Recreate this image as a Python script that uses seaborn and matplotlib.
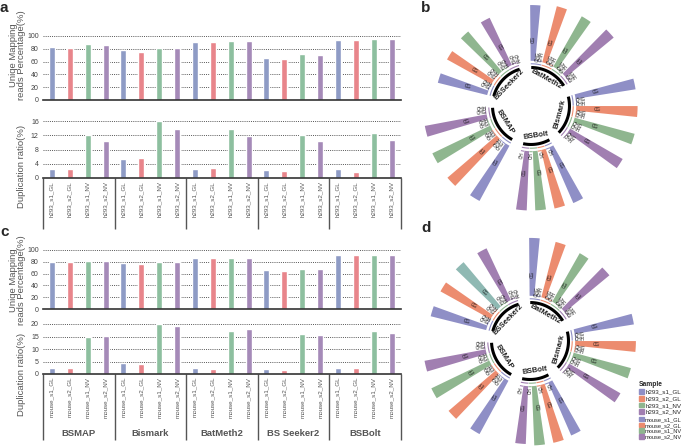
import numpy as np
import pandas as pd
import matplotlib
matplotlib.use("Agg")
from matplotlib import pyplot as plt
from matplotlib.patches import Patch
import seaborn as sns

# ---- data: bar panels (a, c) ----
tools = ["BSMAP", "Bismark", "BatMeth2", "BS Seeker2", "BSBolt"]
h293_samples = ["h293_s1_GL", "h293_s2_GL", "h293_s1_NV", "h293_s2_NV"]
mouse_samples = ["mouse_s1_GL", "mouse_s2_GL", "mouse_s1_NV", "mouse_s2_NV"]

h293_unique = [83.2, 81.6, 86.8, 85.8, 77.4, 75.3, 81.6, 80.5, 91.0, 90.5,
               91.6, 91.6, 66.3, 64.2, 72.0, 71.0, 93.7, 93.7, 94.7, 94.7]
h293_dup = [2.4, 2.4, 12.2, 10.3, 5.3, 5.5, 16.0, 13.9, 2.6, 2.7,
            13.7, 11.9, 2.2, 2.1, 12.2, 10.5, 2.5, 1.7, 12.6, 10.8]
mouse_unique = [80.0, 80.0, 80.6, 80.6, 77.7, 76.6, 78.9, 78.9, 86.8, 86.8,
                86.8, 86.8, 65.4, 64.2, 68.2, 68.2, 91.3, 91.3, 91.3, 91.3]
mouse_dup = [2.6, 2.3, 14.7, 15.2, 4.3, 4.1, 20.0, 19.2, 2.6, 2.2,
             17.2, 18.1, 2.0, 1.8, 16.0, 15.5, 2.6, 2.3, 17.1, 16.3]

# ---- data: circular panels (b, d) ----
circ_tools = ["BatMeth2", "Bismark", "BSBolt", "BSMAP", "BSSeeker2"]
circ_contexts = {"BatMeth2": ["CG", "CHG", "CHH"], "Bismark": ["CG", "CHG", "CHH"],
                 "BSBolt": ["CG", "CH"], "BSMAP": ["CG", "CHG", "CHH"],
                 "BSSeeker2": ["CG", "CHG", "CHH"]}
h293_CG = [79, 82, 82, 88, 86, 87, 88, 86, 86, 85, 84, 84, 89, 92, 91, 89, 72, 72, 74, 74]
h293_CHG = [1.5] * 20     # BSBolt rows hold CH
h293_CHH = [1.0] * 20
mouse_CG = [82, 81, 79, 82, 85, 86, 84, 84, 82, 84, 84, 82, 86, 88, 91, 88, 81, 81, 82, 81]
mouse_CHG = [1.5] * 20
mouse_CHH = [1.0] * 20

bar_colors = ["#8e9bc5", "#e8858b", "#8dbf9f", "#a58ab8"]
circ_colors = ["#8f8fc6", "#ec8c6f", "#8fb68f", "#a17fb1"]

sns.set_style("white")
plt.rcParams["font.family"] = ["Liberation Sans", "DejaVu Sans"]

fig = plt.figure(figsize=(6.85, 4.46), dpi=100)
W, H = 685, 446


def rect(x0, y_top, x1, y_bot):
    return [x0 / W, 1 - y_bot / H, (x1 - x0) / W, (y_bot - y_top) / H]


def draw_bars(r, values, samples, ytop, yticks, ylabel, lab_y, xlabels=False, groups=False,
              sep_len=0.9):
    ax = fig.add_axes(r)
    df = pd.DataFrame({"pos": [f"{t}|{s}" for t in tools for s in samples],
                       "sample": samples * len(tools), "value": values})
    sns.barplot(data=df, x="pos", y="value", hue="sample", palette=dict(zip(samples, bar_colors)),
                dodge=False, width=0.34, errorbar=None, legend=False, saturation=1, ax=ax)
    ax.set_xlim(-0.5, len(df) - 0.5)
    ax.set_ylim(0, ytop * 1.02)
    ax.set_yticks(yticks)
    ax.yaxis.grid(True, linestyle=(0, (1, 1.2)), color="#555555", lw=0.7)
    ax.set_axisbelow(True)
    for s in ["top", "right", "left"]:
        ax.spines[s].set_visible(False)
    ax.spines["bottom"].set_color("#333333")
    ax.spines["bottom"].set_linewidth(1.2)
    ax.tick_params(axis="y", labelsize=5, colors="#444444", length=2, width=0.6, pad=1)
    ax.tick_params(axis="x", length=0)
    ax.set_xlabel("")
    ax.set_ylabel(ylabel, fontsize=6.8, color="#555555", linespacing=0.9)
    ax.yaxis.set_label_coords(-0.047, lab_y)
    if xlabels:
        ax.set_xticks(range(len(df)))
        ax.set_xticklabels(samples * len(tools), rotation=90, fontsize=4.5, color="#555555")
        ax.tick_params(axis="x", pad=2)
        ax.vlines(np.arange(-0.5, len(df), 4), -sep_len, 0, transform=ax.get_xaxis_transform(),
                  colors="#555555", lw=1, clip_on=False)
    else:
        ax.set_xticks([])
    if groups:
        for i, t in enumerate(tools):
            ax.text(i * 4 + 1.5, -1.16, t, transform=ax.get_xaxis_transform(), ha="center",
                    va="center", fontsize=6.8, fontweight="bold", color="#555555")
    return ax


draw_bars(rect(43, 34.7, 400.5, 100), h293_unique, h293_samples, 100, [0, 20, 40, 60, 80, 100],
          "Uniqe Mapping\nreads Percentage(%)", 0.69)
draw_bars(rect(43, 119.9, 400.5, 178), h293_dup, h293_samples, 16, [0, 4, 8, 12, 16],
          "Duplication ratio(%)", 0.2, xlabels=True, sep_len=0.87)
draw_bars(rect(43, 248.8, 400.5, 309), mouse_unique, mouse_samples, 100, [0, 20, 40, 60, 80, 100],
          "Uniqe Mapping\nreads Percentage(%)", 0.48)
draw_bars(rect(43, 323, 400.5, 374), mouse_dup, mouse_samples, 20, [0, 5, 10, 15, 20],
          "Duplication ratio(%)", 0.0, xlabels=True, groups=True, sep_len=1.3)

# ---- circular panels ----
CG_W, CH_W, THETA0 = 6.2, 4.4, -8.4
GAP = (360 - sum(4 * (CG_W + CH_W * (len(circ_contexts[t]) - 1)) for t in circ_tools)) / len(circ_tools)
RMIN, RMAX, PX = -64, 95, 0.706


def radial_rot(th):
    rot = 90 - th
    while rot <= -90:
        rot += 180
    while rot > 90:
        rot -= 180
    return rot


def tangential_rot(th):
    th = th % 360
    return -th if (th < 90 or th > 270) else 180 - th


def draw_circle(cx, cy, cg, chg, chh, recolor=None):
    R = (RMAX - RMIN) * PX
    ax = fig.add_axes(rect(cx - R, cy - R, cx + R, cy + R), projection="polar")
    ax.set_theta_zero_location("N")
    ax.set_theta_direction(-1)
    ax.set_ylim(RMIN, RMAX)
    ax.set_axis_off()
    recolor = recolor or {}
    th = THETA0
    for ti, tool in enumerate(circ_tools):
        th += GAP / 2
        sec_start = th
        for si in range(4):
            i = ti * 4 + si
            vals = [cg[i], chg[i], chh[i]][:len(circ_contexts[tool])]
            g_start = th
            for ctx, v in zip(circ_contexts[tool], vals):
                w = CG_W if ctx == "CG" else CH_W
                mid = th + w / 2
                col = recolor.get(i, circ_colors[si]) if ctx == "CG" else circ_colors[si]
                ax.bar(np.deg2rad(mid), v, width=np.deg2rad(w * 0.95), bottom=0,
                       color=col, lw=0)
                rr = 30 if ctx == "CG" else v + 5.5
                ax.text(np.deg2rad(mid), rr, ctx, fontsize=3.3, rotation=radial_rot(mid),
                        rotation_mode="anchor", ha="center", va="center", color="#111111")
                th += w
            arc = np.deg2rad(np.linspace(g_start + 0.3, th - 0.3, 20))
            ax.plot(arc, [-4.2] * len(arc), color=circ_colors[si], lw=0.8, solid_capstyle="butt")
        arc = np.deg2rad(np.linspace(sec_start + 1, th - 1, 60))
        ax.plot(arc, [-9.5] * len(arc), color="black", lw=2.2, solid_capstyle="butt")
        mid = (sec_start + th) / 2
        ax.text(np.deg2rad(mid), -21, tool, fontsize=5.5, fontweight="bold",
                rotation=tangential_rot(mid), rotation_mode="anchor", ha="center", va="center",
                color="#222222")
        th += GAP / 2


draw_circle(531, 106, h293_CG, h293_CHG, h293_CHH)
# in d the BSSeeker2 / mouse_s1_NV bar is drawn in a teal tone
draw_circle(530, 341, mouse_CG, mouse_CHG, mouse_CHH, recolor={18: "#8fb9b3"})

# legend
h1 = [Patch(color=c, label=s) for c, s in zip(circ_colors, h293_samples)]
h2 = [Patch(color=c, label=s) for c, s in zip(circ_colors, mouse_samples)]
kw = dict(loc="upper left", frameon=False, fontsize=4.5, handlelength=0.8, handleheight=0.8,
          handletextpad=0.3, labelspacing=0.18, borderpad=0, borderaxespad=0)
fig.legend(handles=h1, title="Sample", title_fontproperties={"weight": "bold", "size": 4.8},
           alignment="left", bbox_to_anchor=(639 / W, 1 - 381 / H), **kw)
kw.update(labelspacing=0.1, fontsize=4.1, handletextpad=0.25)
fig.legend(handles=h2, bbox_to_anchor=(639 / W, 1 - 417 / H), **kw)

# panel letters
for x, y, s in [(0, 12, "a"), (421, 12, "b"), (0, 236, "c"), (421, 232, "d")]:
    fig.text(x / W, 1 - y / H, s, fontsize=11, fontweight="bold", va="baseline")

fig.savefig("out.png", dpi=100)
